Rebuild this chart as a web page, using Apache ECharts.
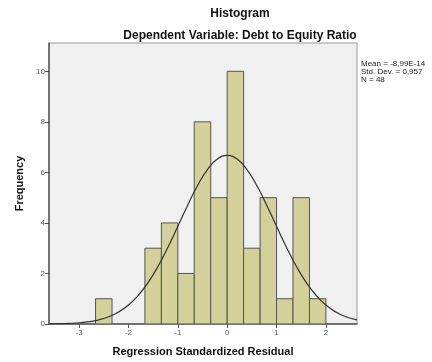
<!DOCTYPE html>
<html><head><meta charset="utf-8">
<script src="https://cdn.jsdelivr.net/npm/echarts@6/dist/echarts.min.js"></script>
<style>html,body{margin:0;padding:0;background:#fff}#c{width:432px;height:362px}</style>
</head><body><div id="c"></div>
<script>
var binEdges = [-2.667,-2.333,-2.0,-1.667,-1.333,-1.0,-0.667,-0.333,0.0,0.333,0.667,1.0,1.333,1.667,2.0];
var counts = [1,0,0,3,4,2,8,5,10,3,5,1,5,1];
var curveX = [-3.6,-3.4,-3.2,-3.0,-2.8,-2.6,-2.4,-2.2,-2.0,-1.8,-1.6,-1.4,-1.2,-1.0,-0.8,-0.6,-0.4,-0.2,0.0,0.2,0.4,0.6,0.8,1.0,1.2,1.4,1.6,1.8,2.0,2.2,2.4,2.63];
var curveY = [0.006,0.012,0.025,0.049,0.092,0.166,0.287,0.475,0.751,1.137,1.648,2.288,3.039,3.864,4.703,5.480,6.112,6.526,6.670,6.526,6.112,5.480,4.703,3.864,3.039,2.288,1.648,1.137,0.751,0.475,0.287,0.16];
var xTicks = [-3,-2,-1,0,1,2];
var yTicks = [0,2,4,6,8,10];
var statsLines = ['Mean = -8,99E-14','Std. Dev. = 0,957','N = 48'];

var barData = counts.map(function(c,i){return [binEdges[i],binEdges[i+1],c];}).filter(function(d){return d[2]>0;});
var curveData = curveX.map(function(x,i){return [x,curveY[i]];});

var chart = echarts.init(document.getElementById('c'), null, {renderer:'canvas'});
var font = 'Liberation Sans, Arial, sans-serif';
chart.setOption({
  animation:false,
  backgroundColor:'#fff',
  title:[
    {text:'Histogram',left:235,top:3,textAlign:'center',textStyle:{fontFamily:font,fontSize:12,fontWeight:'bold',color:'#111'}},
    {text:'Dependent Variable: Debt to Equity Ratio',left:235,top:25,textAlign:'center',textStyle:{fontFamily:font,fontSize:12,fontWeight:'bold',color:'#111'}}
  ],
  graphic:[{type:'text',left:361,top:60,style:{text:statsLines.join('\n'),font:'8px '+font,fill:'#222',lineHeight:8}}],
  grid:{left:49,right:75,top:43,bottom:37,show:true,backgroundColor:'#f0f0f0',borderColor:'#9a9a9a',borderWidth:1},
  xAxis:{type:'value',min:-3.61,max:2.63,
    name:'Regression Standardized Residual',nameLocation:'middle',nameGap:22,
    nameTextStyle:{fontFamily:font,fontSize:11,fontWeight:'bold',color:'#111'},
    axisLine:{show:true,onZero:false,lineStyle:{color:'#555',width:1.5}},
    axisTick:{show:true,customValues:xTicks,length:4,lineStyle:{color:'#555'}},
    axisLabel:{customValues:xTicks,fontFamily:font,fontSize:8,color:'#555',margin:5},
    splitLine:{show:false}},
  yAxis:{type:'value',min:0,max:11.12,
    name:'Frequency',nameLocation:'middle',nameGap:22,
    nameTextStyle:{fontFamily:font,fontSize:11,fontWeight:'bold',color:'#111'},
    axisLine:{show:true,onZero:false,lineStyle:{color:'#555',width:1.5}},
    axisTick:{show:true,customValues:yTicks,length:4,lineStyle:{color:'#555'}},
    axisLabel:{customValues:yTicks,fontFamily:font,fontSize:8,color:'#555',margin:4},
    splitLine:{show:false}},
  series:[
    {type:'custom',data:barData,clip:true,
     renderItem:function(params,api){
       var p0=api.coord([api.value(0),api.value(2)]);
       var p1=api.coord([api.value(1),0]);
       return {type:'rect',shape:{x:p0[0],y:p0[1],width:p1[0]-p0[0],height:p1[1]-p0[1]},
         style:{fill:'#d4d09a',stroke:'#555',lineWidth:1}};
     },encode:{x:[0,1],y:2}},
    {type:'line',data:curveData,smooth:true,showSymbol:false,symbol:'none',
     lineStyle:{color:'#333',width:1.2},z:5}
  ]
});
</script></body></html>
